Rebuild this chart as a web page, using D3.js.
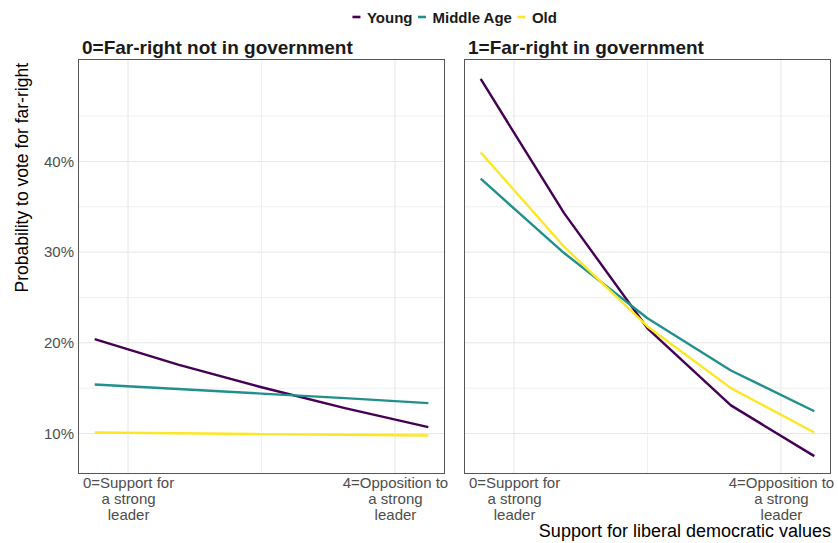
<!DOCTYPE html>
<html>
<head>
<meta charset="utf-8">
<script src="https://cdn.jsdelivr.net/npm/d3@7"></script>
<style>
  body { margin: 0; background: #fff; }
  svg { display: block; font-family: "Liberation Sans", Arial, sans-serif; }
</style>
</head>
<body>
<svg id="chart" width="838" height="543"></svg>
<script>
// ---- Data ----
const panels = ["0=Far-right not in government", "1=Far-right in government"];
const groups = ["Young", "Middle Age", "Old"];
const xValues = [0, 1, 2, 3, 4];

// Panel 0: far-right not in government
const youngNotGov  = [20.4, 17.6, 15.1, 12.8, 10.7];
const middleNotGov = [15.4, 14.9, 14.4, 13.9, 13.35];
const oldNotGov    = [10.1, 10.02, 9.93, 9.85, 9.78];
// Panel 1: far-right in government
const youngGov  = [49.1, 34.3, 21.6, 13.1, 7.5];
const middleGov = [38.1, 29.9, 22.7, 16.95, 12.45];
const oldGov    = [41.0, 30.6, 21.8, 15.0, 10.1];

const yTicks = [10, 20, 30, 40];
const yMinor = [15, 25, 35, 45];
const xTicks = [0.4, 3.6];
const xMinor = [2.0];
const xTickLabels = [
  ["0=Support for", "a strong", "leader"],
  ["4=Opposition to", "a strong", "leader"]
];
const colors = ["#440154", "#21908C", "#FDE725"];

const panelData = [
  [youngNotGov, middleNotGov, oldNotGov],
  [youngGov, middleGov, oldGov]
];

// ---- Layout ----
const svg = d3.select("#chart");
const panelTop = 59, panelBottom = 474;
const panelX = [[78, 445], [464, 831]];

const y = d3.scaleLinear().domain([5.53, 51.3]).range([panelBottom, panelTop]);
const tickColor = "#4d4d4d";

panels.forEach((title, pi) => {
  const [x0, x1] = panelX[pi];
  const x = d3.scaleLinear().domain([-0.2, 4.2]).range([x0, x1]);
  const g = svg.append("g");

  // grid
  g.selectAll(".hminor").data(yMinor.filter(v => y(v) > panelTop)).join("line")
    .attr("x1", x0).attr("x2", x1).attr("y1", d => y(d)).attr("y2", d => y(d))
    .attr("stroke", "#f0f0f0").attr("stroke-width", 1);
  g.selectAll(".hmajor").data(yTicks).join("line")
    .attr("x1", x0).attr("x2", x1).attr("y1", d => y(d)).attr("y2", d => y(d))
    .attr("stroke", "#e6e6e6").attr("stroke-width", 1);
  g.selectAll(".vminor").data(xMinor).join("line")
    .attr("x1", d => x(d)).attr("x2", d => x(d)).attr("y1", panelTop).attr("y2", panelBottom)
    .attr("stroke", "#f0f0f0").attr("stroke-width", 1);
  g.selectAll(".vmajor").data(xTicks).join("line")
    .attr("x1", d => x(d)).attr("x2", d => x(d)).attr("y1", panelTop).attr("y2", panelBottom)
    .attr("stroke", "#e6e6e6").attr("stroke-width", 1);

  // lines
  const line = d3.line().x((d, i) => x(xValues[i])).y(d => y(d));
  panelData[pi].forEach((series, si) => {
    g.append("path").datum(series)
      .attr("d", line)
      .attr("fill", "none")
      .attr("stroke", colors[si])
      .attr("stroke-width", 2.4)
      .attr("stroke-linejoin", "round");
  });

  // border
  g.append("rect").attr("x", x0 + 0.5).attr("y", panelTop + 0.5)
    .attr("width", x1 - x0 - 1).attr("height", panelBottom - panelTop - 1)
    .attr("fill", "none").attr("stroke", "#555").attr("stroke-width", 1);

  // title
  g.append("text").attr("x", x0 + 4).attr("y", 54)
    .attr("font-size", 19).attr("font-weight", "bold").attr("fill", "#1a1a1a")
    .text(title);

  // x axis
  const xAxis = d3.axisBottom(x).tickValues(xTicks).tickSize(0).tickFormat("");
  const xa = g.append("g").attr("transform", `translate(0,${panelBottom})`).call(xAxis);
  xa.select(".domain").remove();
  xa.selectAll(".tick").each(function(d, i) {
    const t = d3.select(this).append("text")
      .attr("fill", tickColor).attr("font-size", 15).attr("text-anchor", "middle");
    xTickLabels[i].forEach((ln, li) => {
      t.append("tspan").attr("x", 0).attr("y", 14 + li * 16).text(ln);
    });
  });

  // y axis (left panel only)
  if (pi === 0) {
    const yAxis = d3.axisLeft(y).tickValues(yTicks).tickSize(0).tickPadding(4)
      .tickFormat(d => d + "%");
    const ya = g.append("g").attr("transform", `translate(${x0},0)`).call(yAxis);
    ya.select(".domain").remove();
    ya.selectAll("text").attr("fill", tickColor).attr("font-size", 15)
      .attr("font-family", "Liberation Sans, Arial, sans-serif");
  }
});

// axis titles
svg.append("text")
  .attr("transform", "translate(28,63) rotate(-90)")
  .attr("text-anchor", "end").attr("font-size", 17.5).attr("fill", "#000")
  .text("Probability to vote for far-right");
svg.append("text")
  .attr("x", 831).attr("y", 537).attr("text-anchor", "end")
  .attr("font-size", 18).attr("fill", "#000")
  .text("Support for liberal democratic values");

// legend
const legend = svg.append("g");
let cx = 0;
groups.forEach((gname, i) => {
  const it = legend.append("g");
  it.append("line").attr("x1", 0).attr("x2", 8).attr("y1", 17).attr("y2", 17)
    .attr("stroke", colors[i]).attr("stroke-width", 2.6);
  const t = it.append("text").attr("x", 14.5).attr("y", 22.5)
    .attr("font-size", 15).attr("font-weight", "bold").attr("fill", "#1a1a1a").text(gname);
  const w = 14.5 + t.node().getComputedTextLength();
  it.attr("transform", `translate(${cx},0)`);
  cx += w + 5.5;
});
const total = cx - 5.5;
legend.attr("transform", `translate(${454.7 - total / 2},0)`);
</script>
</body>
</html>
